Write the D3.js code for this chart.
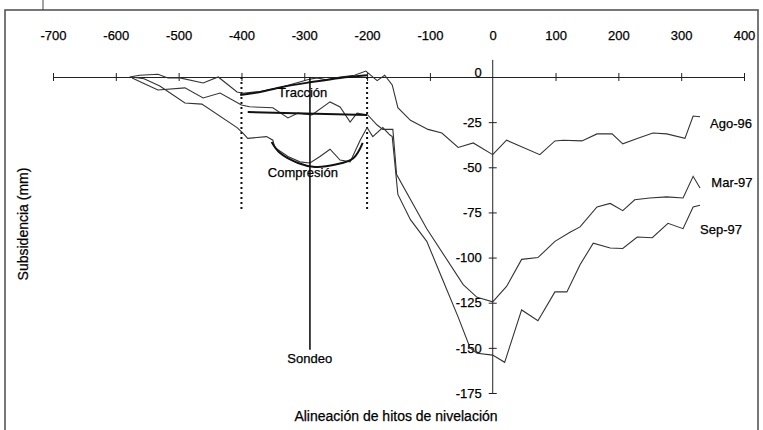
<!DOCTYPE html>
<html>
  <head>
    <title>Subsidencia</title>
    <script src="https://cdn.jsdelivr.net/npm/d3@7/dist/d3.min.js"></script>
    <style>
      body {
        margin: 0;
        background: white;
      }
      svg {
        display: block;
        font-family: "Liberation Sans", Arial, sans-serif;
      }
      text {
        fill: #000;
        stroke: #000;
        stroke-width: 0.25px;
      }
    </style>
  </head>
  <body>
    <script>
    // distancia a lo largo de la alineacion (m) y subsidencia (mm)
    var xTicks = [-700, -600, -500, -400, -300, -200, -100, 0, 100, 200, 300, 400];
    var yTicks = [0, -25, -50, -75, -100, -125, -150, -175];

    var ago96 = [[-578,0],[-562,1],[-533,1.5],[-517,-0.5],[-498,-0.5],[-461,-3.3],[-437,0],[-407,-8.3],
      [-398,-9],[-370,-8],[-340,-6],[-310,-3],[-295,-1.5],[-280,-0.5],[-265,-1.5],[-243,0],[-220,1],
      [-202,3.3],[-184,-2],[-172,1],[-160,-4.4],[-151,-17],[-131,-24],[-103,-29],[-81,-31],[-55,-39],
      [-31,-36.5],[0,-43],[22,-35],[75,-43],[99,-35.4],[112,-35],[142,-35.4],[166,-31.5],[190,-31.5],
      [207,-37],[230,-34],[255,-31],[277,-31.5],[306,-34],[319,-21.6],[330,-22]];

    var mar97 = [[-574,-0.5],[-557,-3.3],[-533,-7.2],[-490,-6],[-461,-11.6],[-434,-8.9],[-400,-15.5],
      [-387,-16.5],[-350,-17],[-326,-22.7],[-310,-20],[-288,-21],[-259,-13.8],[-243,-16.6],[-227,-25],
      [-216,-20],[-199,-21],[-184,-26.6],[-175,-29],[-159,-29],[-153,-54],[-105,-84],[-47,-115],
      [-25,-122],[0,-124.5],[22,-116],[46,-101],[72,-100],[99,-91],[123,-86],[139,-83],[166,-72],
      [187,-70],[207,-74],[226,-68],[250,-67],[277,-66.4],[303,-67],[319,-55],[330,-61.5]];

    var sep97 = [[-575,0],[-555,-1],[-530,-5],[-490,-14.4],[-463,-15],[-407,-28],[-398,-31],[-390,-34],
      [-360,-33],[-350,-35],[-347,-39],[-326,-44],[-307,-47],[-291,-47.6],[-275,-44],[-259,-40],
      [-243,-46],[-227,-47],[-211,-35],[-200,-28],[-191,-33],[-175,-28],[-164,-32],[-160,-33],
      [-151,-65],[-131,-79],[-105,-91],[-80,-112],[-55,-133],[-36,-150],[-25,-153],[0,-154],
      [19,-158],[46,-129],[72,-135],[99,-119],[118,-119],[139,-104],[160,-92],[187,-94.7],[207,-95],
      [230,-88.6],[254,-89],[279,-81],[303,-84],[319,-72],[330,-71]];

    // curvas de interpretacion
    var traccion = [[-402,-10],[-370,-8.3],[-335,-5.5],[-288,-2.8],[-243,-0.5],[-200,1]];
    var horizontal = [[-390,-19.4],[-200,-21]];
    var compresion = [[-352,-36],[-339,-42],[-310,-47.6],[-283,-49.8],[-250,-48.5],[-222,-45],[-207,-36.5]];
    var sondeoX = -291, sondeoY = -151;
    var zonaLimites = [-400, -200];
    var zonaFondo = -74;

    var x = d3.scaleLinear().domain([-700, 400]).range([53, 744]);
    var y = d3.scaleLinear().domain([0, -175]).range([77, 393]);

    var fmt = function (d) { return String(d); };

    var svg = d3.select('body').append('svg')
      .attr('width', 763)
      .attr('height', 430);

    // marco
    svg.append('rect')
      .attr('x', 5).attr('y', 10)
      .attr('width', 753).attr('height', 430)
      .attr('fill', 'none')
      .attr('stroke', '#555')
      .attr('stroke-width', 1.6);
    svg.append('line')
      .attr('x1', 43).attr('x2', 43).attr('y1', 0).attr('y2', 10)
      .attr('stroke', '#444');

    // eje x (linea en y=0, etiquetas arriba)
    var xAxis = svg.append('g')
      .attr('transform', 'translate(0,' + y(0) + ')')
      .call(d3.axisBottom(x).tickValues(xTicks).tickSize(4).tickFormat(''));
    xAxis.select('.domain').attr('stroke', '#222');
    xAxis.selectAll('.tick line').attr('y1', -4).attr('y2', 4).attr('stroke', '#222');
    xAxis.selectAll('.tick').filter(function (d) { return d === 0; }).remove();

    var xLabels = svg.append('g')
      .attr('transform', 'translate(0,40)')
      .call(d3.axisTop(x).tickValues(xTicks).tickSize(0).tickPadding(0).tickFormat(fmt));
    xLabels.select('.domain').remove();
    xLabels.selectAll('text')
      .attr('font-size', 13)
      .attr('font-family', '"Liberation Sans", Arial, sans-serif');

    // eje y
    var yAxis = svg.append('g')
      .attr('transform', 'translate(' + x(0) + ',0)')
      .call(d3.axisLeft(y).tickValues(yTicks).tickSize(4).tickPadding(7).tickFormat(fmt));
    yAxis.select('.domain').remove();
    yAxis.append('line')
      .attr('y1', y(9.5)).attr('y2', y(-175))
      .attr('stroke', '#222');
    yAxis.selectAll('.tick line').attr('x1', -4).attr('x2', 4).attr('stroke', '#222');
    yAxis.selectAll('.tick').filter(function (d) { return d === 0; }).select('line').remove();
    yAxis.selectAll('text')
      .attr('font-size', 13)
      .attr('font-family', '"Liberation Sans", Arial, sans-serif');
    yAxis.selectAll('.tick').filter(function (d) { return d === 0; }).select('text').attr('dy', '-0.05em');

    // zona entre -400 y -200
    svg.selectAll('.limite')
      .data(zonaLimites)
      .enter().append('line')
      .attr('class', 'limite')
      .attr('x1', function (d) { return x(d); })
      .attr('x2', function (d) { return x(d); })
      .attr('y1', y(0))
      .attr('y2', y(zonaFondo))
      .attr('stroke', '#111')
      .attr('stroke-width', 2)
      .attr('stroke-dasharray', '2,3');

    var line = d3.line()
      .x(function (d) { return x(d[0]); })
      .y(function (d) { return y(d[1]); });

    var smooth = d3.line()
      .curve(d3.curveCatmullRom)
      .x(function (d) { return x(d[0]); })
      .y(function (d) { return y(d[1]); });

    [ago96, mar97, sep97].forEach(function (s) {
      svg.append('path')
        .attr('d', line(s))
        .attr('fill', 'none')
        .attr('stroke', '#333')
        .attr('stroke-width', 1.1);
    });

    [traccion, horizontal, compresion].forEach(function (s) {
      svg.append('path')
        .attr('d', smooth(s))
        .attr('fill', 'none')
        .attr('stroke', '#111')
        .attr('stroke-width', 2);
    });

    // sondeo
    svg.append('line')
      .attr('x1', x(sondeoX)).attr('x2', x(sondeoX))
      .attr('y1', y(0)).attr('y2', y(sondeoY))
      .attr('stroke', '#111')
      .attr('stroke-width', 1.6);

    function label(txt, px, py, size) {
      svg.append('text')
        .attr('x', px).attr('y', py)
        .attr('font-size', size || 13)
        .text(txt);
    }

    label('Ago-96', x(346), y(-28.5));
    label('Mar-97', x(348), y(-61));
    label('Sep-97', x(330), y(-87));
    label('Tracción', x(-342), y(-11));
    label('Compresión', x(-358), y(-55.5));
    label('Sondeo', x(-327), y(-158.5));

    svg.append('text')
      .attr('x', 396).attr('y', 421)
      .attr('text-anchor', 'middle')
      .attr('font-size', 14)
      .text('Alineación de hitos de nivelación');

    svg.append('text')
      .attr('transform', 'translate(28,224) rotate(-90)')
      .attr('text-anchor', 'middle')
      .attr('font-size', 14)
      .text('Subsidencia (mm)');
    </script>
  </body>
</html>
